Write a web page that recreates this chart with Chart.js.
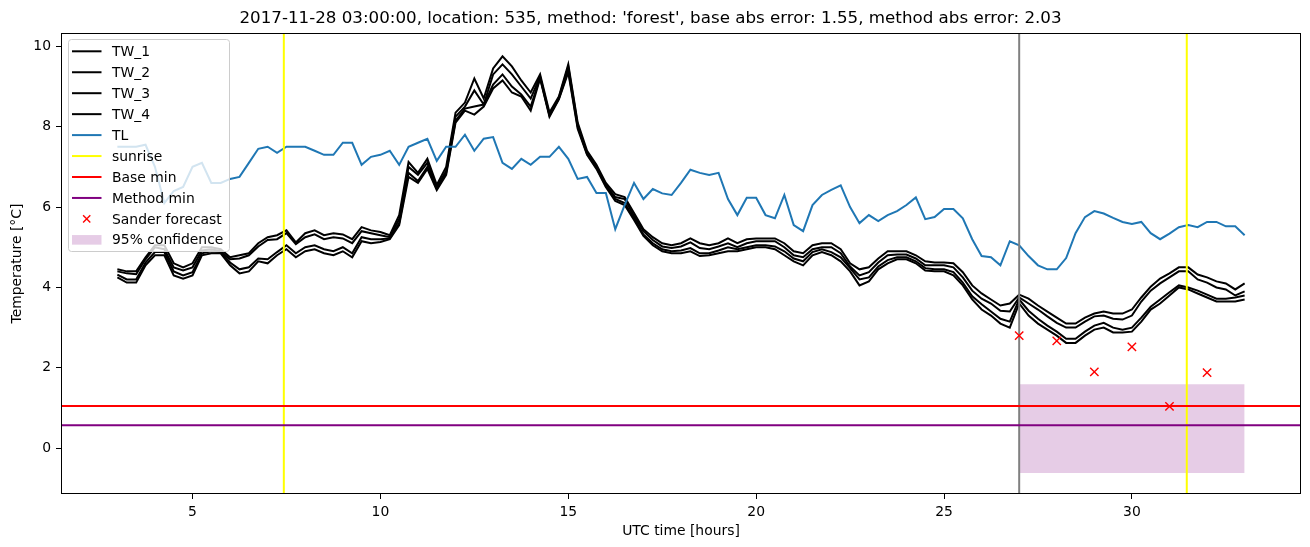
<!DOCTYPE html>
<html>
<head>
<meta charset="utf-8">
<script src="https://cdn.jsdelivr.net/npm/chart.js@4"></script>
<style>
  body { margin: 0; background: #fff; }
  #wrap { width: 1310px; height: 547px; }
</style>
</head>
<body>
<div id="wrap"><canvas id="tempChart"></canvas></div>
<script>
// readings every 15 minutes from 03:00 to 33:00 (UTC hours)
const startHour = 3;
const stepHour = 0.25;

const TL = [
  7.5, 7.5, 7.5, 7.55, 7.0, 6.1, 6.4, 6.5, 7.0, 7.1,
  6.6, 6.6, 6.7, 6.75, 7.1, 7.45, 7.5, 7.35, 7.5, 7.5,
  7.5, 7.4, 7.3, 7.3, 7.6, 7.6, 7.05, 7.25, 7.3, 7.4,
  7.05, 7.5, 7.6, 7.7, 7.15, 7.5, 7.5, 7.8, 7.4, 7.7,
  7.74, 7.1, 6.95, 7.2, 7.05, 7.25, 7.25, 7.5, 7.2, 6.7,
  6.75, 6.35, 6.35, 5.45, 6.05, 6.6, 6.2, 6.45, 6.34, 6.3,
  6.6, 6.93, 6.85, 6.8, 6.85, 6.2, 5.8, 6.23, 6.23, 5.8,
  5.72, 6.3, 5.55, 5.4, 6.05, 6.3, 6.43, 6.54, 6.0, 5.6,
  5.8, 5.65, 5.8, 5.9, 6.05, 6.24, 5.7, 5.75, 5.95, 5.95,
  5.72, 5.2, 4.78, 4.75, 4.55, 5.15, 5.05, 4.78, 4.55, 4.45,
  4.45, 4.73, 5.35, 5.75, 5.9, 5.84, 5.73, 5.63, 5.58, 5.63,
  5.35, 5.2, 5.34, 5.5, 5.55, 5.5, 5.63, 5.63, 5.52, 5.52,
  5.3
];

const TW_1 = [
  4.45, 4.4, 4.4, 4.75, 5.05, 5.05, 4.6, 4.5, 4.6, 5.0,
  5.0, 4.95, 4.75, 4.8, 4.85, 5.1, 5.25, 5.3, 5.42, 5.12,
  5.35, 5.42, 5.3, 5.35, 5.32, 5.2, 5.5, 5.42, 5.38, 5.3,
  5.8, 7.12, 6.85, 7.2, 6.55, 7.0, 8.35, 8.6, 9.2, 8.7,
  9.45, 9.75, 9.5, 9.15, 8.85, 9.3, 8.35, 8.75, 9.55, 8.1,
  7.4, 7.05, 6.6, 6.32, 6.25, 5.85, 5.45, 5.25, 5.1, 5.05,
  5.1, 5.22, 5.1, 5.05, 5.1, 5.22, 5.1, 5.2, 5.22, 5.22,
  5.22, 5.1, 4.9, 4.85, 5.05, 5.1, 5.1, 4.95, 4.6, 4.45,
  4.5, 4.72, 4.9, 4.9, 4.9, 4.8, 4.65, 4.62, 4.62, 4.6,
  4.38, 4.05, 3.85, 3.7, 3.55, 3.6, 3.82, 3.72, 3.55, 3.4,
  3.25, 3.1, 3.1, 3.25, 3.35, 3.4, 3.35, 3.35, 3.45, 3.75,
  4.02, 4.22, 4.35, 4.5, 4.5, 4.32, 4.25, 4.15, 4.1, 3.95,
  4.1
];

const TW_2 = [
  4.4, 4.35, 4.33, 4.7, 5.0, 4.95, 4.5, 4.42, 4.5, 4.92,
  4.95, 4.9, 4.7, 4.72, 4.8, 5.02, 5.18, 5.2, 5.35, 5.08,
  5.25, 5.32, 5.2, 5.25, 5.22, 5.1, 5.4, 5.35, 5.3, 5.25,
  5.7, 7.0, 6.8, 7.1, 6.5, 6.9, 8.25, 8.5, 8.9, 8.55,
  9.3, 9.55, 9.3, 9.0, 8.7, 9.25, 8.3, 8.72, 9.5, 8.05,
  7.35, 7.0, 6.55, 6.25, 6.2, 5.78, 5.4, 5.18, 5.02, 4.98,
  5.02, 5.12, 4.98, 4.95, 5.02, 5.1, 5.0, 5.1, 5.15, 5.15,
  5.15, 5.0, 4.8, 4.75, 4.95, 5.0, 5.0, 4.85, 4.52, 4.3,
  4.38, 4.62, 4.8, 4.82, 4.82, 4.72, 4.55, 4.55, 4.55, 4.5,
  4.25, 3.92, 3.72, 3.6, 3.42, 3.4, 3.75, 3.6, 3.45, 3.28,
  3.12, 3.0, 3.0, 3.15, 3.28, 3.3, 3.22, 3.2, 3.3, 3.65,
  3.92, 4.1, 4.25, 4.4, 4.4, 4.2, 4.12, 4.0, 3.95, 3.8,
  3.9
];

const TW_3 = [
  4.32, 4.2, 4.2, 4.62, 4.88, 4.88, 4.4, 4.3, 4.38, 4.85,
  4.9, 4.88, 4.62, 4.45, 4.5, 4.72, 4.7, 4.88, 5.05, 4.85,
  5.0, 5.05, 4.95, 4.9, 5.0, 4.85, 5.25, 5.2, 5.2, 5.22,
  5.6, 6.85, 6.65, 7.0, 6.45, 6.85, 8.15, 8.45, 8.5, 8.55,
  9.05, 9.3, 9.0, 8.8, 8.5, 9.22, 8.28, 8.7, 9.4, 8.0,
  7.32, 6.98, 6.52, 6.2, 6.1, 5.72, 5.32, 5.1, 4.95, 4.9,
  4.92, 4.98, 4.85, 4.85, 4.92, 5.0, 4.95, 5.0, 5.05, 5.05,
  5.02, 4.9, 4.72, 4.65, 4.88, 4.95, 4.88, 4.75, 4.48, 4.2,
  4.25, 4.52, 4.68, 4.75, 4.75, 4.65, 4.48, 4.45, 4.45, 4.38,
  4.12, 3.78, 3.58, 3.4, 3.22, 3.15, 3.7, 3.42, 3.22, 3.05,
  2.9, 2.72, 2.72, 2.9, 3.05, 3.12, 3.0, 2.95, 3.0, 3.25,
  3.52, 3.7, 3.88, 4.05, 4.0, 3.92, 3.82, 3.72, 3.72, 3.75,
  3.8
];

const TW_4 = [
  4.25, 4.12, 4.12, 4.55, 4.8, 4.8, 4.3, 4.22, 4.3, 4.8,
  4.85, 4.85, 4.55, 4.35, 4.4, 4.65, 4.6, 4.8, 4.95, 4.75,
  4.9, 4.95, 4.85, 4.8, 4.9, 4.75, 5.15, 5.1, 5.13, 5.2,
  5.55, 6.75, 6.6, 6.95, 6.42, 6.8, 8.1, 8.4, 8.3, 8.5,
  8.95, 9.15, 8.85, 8.75, 8.4, 9.2, 8.25, 8.68, 9.35, 7.95,
  7.3, 6.95, 6.5, 6.15, 6.05, 5.68, 5.28, 5.05, 4.9, 4.85,
  4.85, 4.9, 4.78, 4.8, 4.85, 4.9, 4.9, 4.95, 5.0, 5.0,
  4.95, 4.8, 4.65, 4.55, 4.8, 4.88, 4.8, 4.65, 4.4, 4.05,
  4.15, 4.45, 4.6, 4.7, 4.7, 4.6, 4.42, 4.4, 4.4, 4.3,
  4.05, 3.7, 3.45, 3.3, 3.1, 3.0, 3.6, 3.3, 3.1, 2.95,
  2.8, 2.62, 2.62, 2.8, 2.95, 3.0, 2.88, 2.88, 2.9, 3.15,
  3.45, 3.6, 3.8, 4.0, 3.95, 3.85, 3.75, 3.65, 3.65, 3.65,
  3.7
];

const sanderHours = [27, 28, 29, 30, 31, 32];
const sanderValues = [2.8, 2.67, 1.9, 2.52, 1.04, 1.88];

const sunriseHours = [7.43, 31.46];
const forecastHour = 27;
const baseMin = 1.05;
const methodMin = 0.57;
const confHours = [27, 33];
const confLow = [-0.62, -0.62];
const confHigh = [1.59, 1.59];

const xTicks = [5, 10, 15, 20, 25, 30];
const yTicks = [0, 2, 4, 6, 8, 10];
const xRange = [1.5, 34.5];
const yRange = [-1.14, 10.33];

const titleText = "2017-11-28 03:00:00, location: 535, method: 'forest', base abs error: 1.55, method abs error: 2.03";

const times = TL.map((_, i) => startHour + i * stepHour);
const series = arr => arr.map((v, i) => ({ x: times[i], y: v }));

function vline(hours) {
  const pts = [];
  hours.forEach(h => {
    pts.push({ x: h, y: yRange[0] }, { x: h, y: yRange[1] }, { x: h, y: null });
  });
  return pts;
}
function hline(v) {
  return [{ x: xRange[0], y: v }, { x: xRange[1], y: v }];
}

const FONT = "'DejaVu Sans', sans-serif";
Chart.defaults.font.family = FONT;
Chart.defaults.color = "#000";

const lineBase = { pointRadius: 0, borderWidth: 2, fill: false, tension: 0, spanGaps: false };

const datasets = [
  { label: "conf_low", data: confHours.map((h, i) => ({ x: h, y: confLow[i] })), ...lineBase, borderWidth: 0, order: 20 },
  { label: "95% confidence", data: confHours.map((h, i) => ({ x: h, y: confHigh[i] })), ...lineBase, borderWidth: 0,
    fill: "-1", backgroundColor: "rgba(128,0,128,0.2)", order: 19 },
  { label: "TW_1", data: series(TW_1), ...lineBase, borderColor: "#000", order: 18 },
  { label: "TW_2", data: series(TW_2), ...lineBase, borderColor: "#000", order: 17 },
  { label: "TW_3", data: series(TW_3), ...lineBase, borderColor: "#000", order: 16 },
  { label: "TW_4", data: series(TW_4), ...lineBase, borderColor: "#000", order: 15 },
  { label: "TL", data: series(TL), ...lineBase, borderColor: "#1f77b4", order: 14 },
  { label: "forecast", data: vline([forecastHour]), ...lineBase, borderColor: "#808080", order: 13 },
  { label: "sunrise", data: vline(sunriseHours), ...lineBase, borderColor: "#ffff00", order: 12 },
  { label: "Base min", data: hline(baseMin), ...lineBase, borderColor: "#ff0000", order: 11 },
  { label: "Method min", data: hline(methodMin), ...lineBase, borderColor: "#800080", order: 10 },
  { label: "Sander forecast", data: sanderHours.map((h, i) => ({ x: h, y: sanderValues[i] })),
    showLine: false, pointStyle: "crossRot", pointRadius: 5.9, borderWidth: 1.4,
    borderColor: "#ff0000", backgroundColor: "#ff0000", order: 1 }
];

const legendItems = [
  { text: "TW_1", kind: "line", color: "#000" },
  { text: "TW_2", kind: "line", color: "#000" },
  { text: "TW_3", kind: "line", color: "#000" },
  { text: "TW_4", kind: "line", color: "#000" },
  { text: "TL", kind: "line", color: "#1f77b4" },
  { text: "sunrise", kind: "line", color: "#ffff00" },
  { text: "Base min", kind: "line", color: "#ff0000" },
  { text: "Method min", kind: "line", color: "#800080" },
  { text: "Sander forecast", kind: "marker", color: "#ff0000" },
  { text: "95% confidence", kind: "patch", color: "rgba(128,0,128,0.2)" }
];

// axes frame + legend box drawn on top, matplotlib style
const framePlugin = {
  id: "frame",
  afterDraw(chart) {
    const { ctx, chartArea: a } = chart;
    ctx.save();
    ctx.strokeStyle = "#000";
    ctx.lineWidth = 1;
    ctx.strokeRect(Math.round(a.left) + 0.5, Math.round(a.top) + 0.5,
      Math.round(a.right - a.left) - 1, Math.round(a.bottom - a.top) - 1);

    const bx = 68.5, by = 39.5, bw = 161, bh = 212, r = 3;
    ctx.beginPath();
    ctx.moveTo(bx + r, by);
    ctx.arcTo(bx + bw, by, bx + bw, by + bh, r);
    ctx.arcTo(bx + bw, by + bh, bx, by + bh, r);
    ctx.arcTo(bx, by + bh, bx, by, r);
    ctx.arcTo(bx, by, bx + bw, by, r);
    ctx.closePath();
    ctx.fillStyle = "rgba(255,255,255,0.8)";
    ctx.fill();
    ctx.strokeStyle = "#cccccc";
    ctx.stroke();

    ctx.font = "13.9px " + FONT;
    ctx.textBaseline = "middle";
    legendItems.forEach((it, i) => {
      const y = 51.3 + i * 20.95;
      if (it.kind === "line") {
        ctx.strokeStyle = it.color;
        ctx.lineWidth = 2;
        ctx.beginPath();
        ctx.moveTo(72, y);
        ctx.lineTo(101.5, y);
        ctx.stroke();
      } else if (it.kind === "marker") {
        ctx.strokeStyle = it.color;
        ctx.lineWidth = 1.4;
        const cx = 86.7, s = 3.6;
        ctx.beginPath();
        ctx.moveTo(cx - s, y - s); ctx.lineTo(cx + s, y + s);
        ctx.moveTo(cx - s, y + s); ctx.lineTo(cx + s, y - s);
        ctx.stroke();
      } else {
        ctx.fillStyle = it.color;
        ctx.fillRect(72, y - 4.8, 29.5, 9.6);
      }
      ctx.fillStyle = "#000";
      ctx.fillText(it.text, 112, y + 1);
    });
    ctx.restore();
  }
};

new Chart(document.getElementById("tempChart"), {
  type: "line",
  data: { datasets },
  plugins: [framePlugin],
  options: {
    responsive: true,
    maintainAspectRatio: false,
    animation: false,
    events: [],
    layout: { padding: { left: 0, right: 9, top: 0, bottom: 0 } },
    plugins: {
      legend: { display: false },
      tooltip: { enabled: false },
      title: {
        display: true,
        text: titleText,
        color: "#000",
        font: { size: 16.7, weight: "normal", family: FONT },
        padding: { top: 9, bottom: 4 }
      }
    },
    scales: {
      x: {
        type: "linear",
        min: xRange[0],
        max: xRange[1],
        afterBuildTicks: s => { s.ticks = xTicks.map(v => ({ value: v })); },
        afterFit: s => { s.height = 53; },
        ticks: { autoSkip: false, maxRotation: 0, padding: 5, color: "#000", font: { size: 13.9 } },
        grid: { drawOnChartArea: false, drawTicks: true, tickLength: 5, color: "#000" },
        border: { display: false },
        title: { display: true, text: "UTC time [hours]", color: "#000", font: { size: 13.9 },
          padding: { top: 0, bottom: 7 } }
      },
      y: {
        type: "linear",
        min: yRange[0],
        max: yRange[1],
        afterBuildTicks: s => { s.ticks = yTicks.map(v => ({ value: v })); },
        afterFit: s => { s.width = 61; },
        ticks: { autoSkip: false, padding: 5, color: "#000", font: { size: 13.9 } },
        grid: { drawOnChartArea: false, drawTicks: true, tickLength: 5, color: "#000" },
        border: { display: false },
        title: { display: true, text: "Temperature [\u00b0C]", color: "#000", font: { size: 13.9 },
          padding: { top: 9, bottom: 0 } }
      }
    }
  }
});
</script>
</body>
</html>
